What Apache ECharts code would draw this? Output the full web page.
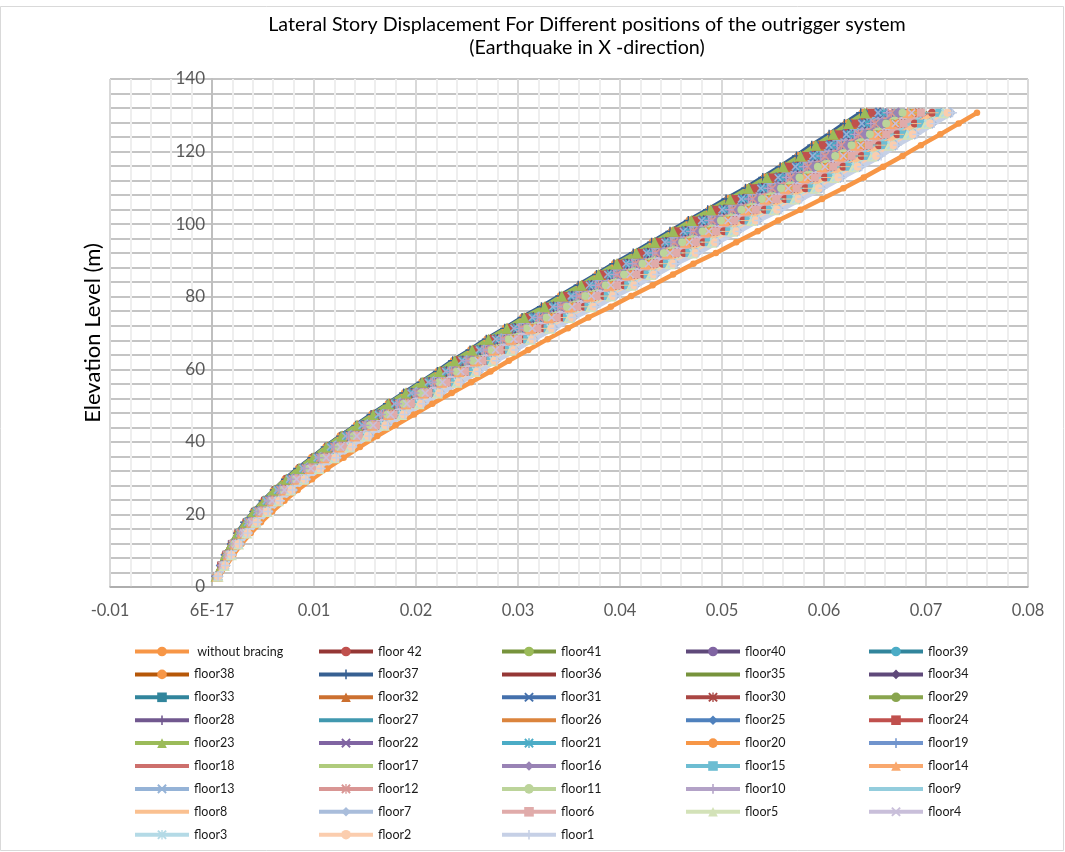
<!DOCTYPE html>
<html><head><meta charset="utf-8">
<script src="https://cdn.jsdelivr.net/npm/echarts@6/dist/echarts.min.js"></script>
<style>html,body{margin:0;padding:0;background:#fff}#c{width:1065px;height:852px}</style>
</head><body><div id="c"></div>
<script>
const elevation = [2.97,5.94,8.91,11.88,14.85,17.82,20.79,23.76,26.73,29.7,32.67,35.64,38.61,41.58,44.55,47.52,50.49,53.46,56.43,59.4,62.37,65.34,68.31,71.28,74.25,77.22,80.19,83.16,86.13,89.1,92.07,95.04,98.01,100.98,103.95,106.92,109.89,112.86,115.83,118.8,121.77,124.74,127.71,130.68];
const xTickLabels = ['-0.01','6E-17','0.01','0.02','0.03','0.04','0.05','0.06','0.07','0.08'];
const yTickLabels = ['0','20','40','60','80','100','120','140'];

const withoutBracing = [0.0007,0.0014,0.0021,0.0029,0.0038,0.0048,0.0059,0.0071,0.0084,0.0098,0.0113,0.0129,0.0145,0.0162,0.0180,0.0198,0.0216,0.0235,0.0254,0.0273,0.0291,0.0310,0.0329,0.0349,0.0369,0.0391,0.0411,0.0432,0.0452,0.0472,0.0494,0.0514,0.0535,0.0555,0.0577,0.0598,0.0619,0.0639,0.0658,0.0677,0.0695,0.0714,0.0732,0.0750];
const floor42 = [0.0006,0.0012,0.0018,0.0025,0.0033,0.0042,0.0052,0.0063,0.0075,0.0088,0.0102,0.0117,0.0132,0.0148,0.0165,0.0182,0.0199,0.0217,0.0235,0.0253,0.0270,0.0288,0.0306,0.0325,0.0344,0.0365,0.0384,0.0404,0.0423,0.0442,0.0463,0.0482,0.0502,0.0521,0.0542,0.0562,0.0582,0.0601,0.0619,0.0637,0.0654,0.0672,0.0689,0.0706];
const floor41 = [0.0005,0.0009,0.0014,0.0020,0.0026,0.0034,0.0043,0.0053,0.0063,0.0075,0.0088,0.0101,0.0115,0.0130,0.0145,0.0161,0.0177,0.0194,0.0210,0.0227,0.0243,0.0259,0.0276,0.0294,0.0311,0.0331,0.0349,0.0368,0.0385,0.0403,0.0423,0.0440,0.0459,0.0477,0.0496,0.0515,0.0534,0.0552,0.0568,0.0585,0.0601,0.0617,0.0633,0.0649];
const floor40 = [0.0005,0.0011,0.0016,0.0023,0.0030,0.0038,0.0048,0.0058,0.0070,0.0082,0.0095,0.0110,0.0124,0.0140,0.0156,0.0172,0.0189,0.0206,0.0224,0.0241,0.0257,0.0275,0.0292,0.0311,0.0329,0.0349,0.0368,0.0387,0.0406,0.0424,0.0444,0.0463,0.0482,0.0501,0.0521,0.0540,0.0560,0.0578,0.0596,0.0613,0.0629,0.0647,0.0663,0.0680];
const floor39 = [0.0005,0.0010,0.0015,0.0022,0.0029,0.0037,0.0046,0.0056,0.0067,0.0079,0.0093,0.0107,0.0121,0.0136,0.0152,0.0168,0.0185,0.0202,0.0219,0.0236,0.0252,0.0269,0.0286,0.0305,0.0323,0.0343,0.0361,0.0380,0.0398,0.0416,0.0437,0.0455,0.0474,0.0492,0.0512,0.0531,0.0551,0.0569,0.0586,0.0603,0.0619,0.0636,0.0652,0.0669];
const floor38 = [0.0004,0.0009,0.0013,0.0019,0.0025,0.0033,0.0041,0.0051,0.0061,0.0072,0.0085,0.0098,0.0112,0.0126,0.0142,0.0157,0.0173,0.0189,0.0206,0.0222,0.0237,0.0254,0.0270,0.0288,0.0305,0.0325,0.0342,0.0361,0.0378,0.0395,0.0415,0.0432,0.0451,0.0468,0.0488,0.0506,0.0525,0.0542,0.0559,0.0575,0.0590,0.0607,0.0622,0.0638];
const floor37 = [0.0004,0.0009,0.0013,0.0019,0.0025,0.0032,0.0041,0.0050,0.0061,0.0072,0.0084,0.0098,0.0111,0.0126,0.0141,0.0156,0.0172,0.0188,0.0205,0.0221,0.0236,0.0253,0.0269,0.0287,0.0304,0.0323,0.0341,0.0359,0.0377,0.0394,0.0413,0.0431,0.0449,0.0467,0.0486,0.0504,0.0523,0.0540,0.0557,0.0573,0.0588,0.0605,0.0620,0.0636];
const floor36 = [0.0006,0.0012,0.0018,0.0025,0.0033,0.0043,0.0053,0.0064,0.0076,0.0089,0.0103,0.0118,0.0133,0.0149,0.0166,0.0184,0.0201,0.0219,0.0237,0.0255,0.0272,0.0290,0.0308,0.0327,0.0346,0.0368,0.0387,0.0407,0.0426,0.0445,0.0466,0.0485,0.0505,0.0524,0.0545,0.0566,0.0586,0.0605,0.0623,0.0641,0.0658,0.0676,0.0693,0.0710];
const floor35 = [0.0006,0.0012,0.0018,0.0025,0.0032,0.0041,0.0051,0.0062,0.0074,0.0087,0.0101,0.0116,0.0131,0.0147,0.0163,0.0180,0.0197,0.0215,0.0233,0.0251,0.0268,0.0286,0.0304,0.0323,0.0341,0.0362,0.0381,0.0401,0.0420,0.0439,0.0460,0.0479,0.0499,0.0518,0.0538,0.0558,0.0578,0.0597,0.0615,0.0633,0.0650,0.0668,0.0685,0.0702];
const floor34 = [0.0005,0.0010,0.0015,0.0020,0.0027,0.0035,0.0044,0.0054,0.0065,0.0076,0.0089,0.0103,0.0117,0.0132,0.0148,0.0164,0.0179,0.0196,0.0213,0.0230,0.0246,0.0263,0.0280,0.0297,0.0315,0.0335,0.0353,0.0372,0.0390,0.0407,0.0427,0.0445,0.0464,0.0482,0.0502,0.0521,0.0539,0.0557,0.0574,0.0591,0.0607,0.0624,0.0640,0.0655];
const floor33 = [0.0005,0.0011,0.0016,0.0022,0.0029,0.0038,0.0047,0.0057,0.0069,0.0081,0.0094,0.0109,0.0123,0.0138,0.0154,0.0171,0.0187,0.0204,0.0222,0.0239,0.0255,0.0273,0.0290,0.0308,0.0326,0.0347,0.0365,0.0384,0.0403,0.0421,0.0441,0.0460,0.0479,0.0497,0.0517,0.0537,0.0556,0.0574,0.0592,0.0609,0.0625,0.0643,0.0659,0.0675];
const floor32 = [0.0005,0.0009,0.0014,0.0019,0.0026,0.0033,0.0042,0.0051,0.0062,0.0073,0.0086,0.0100,0.0113,0.0128,0.0143,0.0159,0.0174,0.0191,0.0207,0.0224,0.0240,0.0256,0.0273,0.0290,0.0308,0.0327,0.0345,0.0363,0.0381,0.0398,0.0418,0.0436,0.0454,0.0472,0.0491,0.0510,0.0528,0.0546,0.0562,0.0579,0.0595,0.0611,0.0627,0.0642];
const floor31 = [0.0005,0.0009,0.0014,0.0019,0.0026,0.0034,0.0042,0.0052,0.0062,0.0074,0.0087,0.0100,0.0114,0.0128,0.0144,0.0160,0.0175,0.0192,0.0208,0.0225,0.0241,0.0257,0.0274,0.0291,0.0309,0.0329,0.0346,0.0365,0.0382,0.0400,0.0420,0.0437,0.0456,0.0473,0.0493,0.0512,0.0530,0.0548,0.0564,0.0581,0.0597,0.0613,0.0629,0.0644];
const floor30 = [0.0006,0.0011,0.0017,0.0024,0.0031,0.0040,0.0050,0.0061,0.0072,0.0085,0.0099,0.0113,0.0128,0.0144,0.0160,0.0177,0.0194,0.0212,0.0229,0.0247,0.0264,0.0281,0.0299,0.0318,0.0336,0.0357,0.0376,0.0396,0.0414,0.0433,0.0454,0.0472,0.0492,0.0511,0.0531,0.0551,0.0571,0.0590,0.0607,0.0625,0.0642,0.0659,0.0676,0.0693];
const floor29 = [0.0005,0.0011,0.0016,0.0023,0.0030,0.0039,0.0048,0.0059,0.0070,0.0083,0.0096,0.0111,0.0125,0.0141,0.0157,0.0174,0.0190,0.0208,0.0225,0.0243,0.0259,0.0277,0.0294,0.0313,0.0331,0.0352,0.0370,0.0390,0.0408,0.0427,0.0447,0.0466,0.0485,0.0504,0.0524,0.0544,0.0563,0.0582,0.0599,0.0617,0.0633,0.0651,0.0667,0.0684];
const floor28 = [0.0005,0.0010,0.0015,0.0021,0.0028,0.0036,0.0045,0.0055,0.0066,0.0077,0.0090,0.0104,0.0118,0.0133,0.0149,0.0165,0.0181,0.0198,0.0215,0.0232,0.0248,0.0265,0.0282,0.0300,0.0318,0.0338,0.0356,0.0375,0.0393,0.0410,0.0430,0.0448,0.0467,0.0485,0.0505,0.0524,0.0543,0.0561,0.0578,0.0595,0.0611,0.0628,0.0644,0.0660];
const floor27 = [0.0006,0.0012,0.0017,0.0024,0.0032,0.0041,0.0051,0.0061,0.0073,0.0086,0.0100,0.0115,0.0129,0.0145,0.0162,0.0179,0.0196,0.0213,0.0231,0.0249,0.0266,0.0284,0.0301,0.0320,0.0339,0.0360,0.0379,0.0398,0.0417,0.0436,0.0457,0.0476,0.0495,0.0514,0.0535,0.0555,0.0575,0.0593,0.0611,0.0629,0.0646,0.0664,0.0680,0.0697];
const floor26 = [0.0005,0.0010,0.0016,0.0022,0.0029,0.0037,0.0046,0.0057,0.0068,0.0080,0.0093,0.0107,0.0122,0.0137,0.0153,0.0169,0.0185,0.0203,0.0220,0.0237,0.0253,0.0270,0.0288,0.0306,0.0324,0.0344,0.0362,0.0382,0.0400,0.0418,0.0438,0.0456,0.0476,0.0494,0.0514,0.0533,0.0552,0.0571,0.0588,0.0605,0.0621,0.0638,0.0655,0.0671];
const floor25 = [0.0005,0.0009,0.0014,0.0020,0.0027,0.0034,0.0043,0.0053,0.0064,0.0075,0.0088,0.0102,0.0116,0.0130,0.0146,0.0162,0.0178,0.0194,0.0211,0.0228,0.0244,0.0260,0.0277,0.0295,0.0313,0.0332,0.0350,0.0369,0.0387,0.0404,0.0424,0.0442,0.0461,0.0478,0.0498,0.0517,0.0536,0.0553,0.0570,0.0587,0.0603,0.0619,0.0635,0.0651];
const floor24 = [0.0005,0.0009,0.0014,0.0020,0.0026,0.0034,0.0043,0.0052,0.0063,0.0074,0.0087,0.0101,0.0114,0.0129,0.0145,0.0160,0.0176,0.0193,0.0209,0.0226,0.0242,0.0258,0.0275,0.0293,0.0310,0.0330,0.0348,0.0366,0.0384,0.0401,0.0421,0.0439,0.0457,0.0475,0.0495,0.0513,0.0532,0.0550,0.0566,0.0583,0.0599,0.0615,0.0631,0.0647];
const floor23 = [0.0004,0.0009,0.0013,0.0019,0.0025,0.0033,0.0041,0.0051,0.0061,0.0073,0.0085,0.0099,0.0112,0.0127,0.0142,0.0158,0.0173,0.0190,0.0206,0.0223,0.0238,0.0255,0.0271,0.0289,0.0306,0.0326,0.0343,0.0362,0.0379,0.0397,0.0416,0.0434,0.0452,0.0470,0.0489,0.0508,0.0526,0.0544,0.0560,0.0577,0.0592,0.0609,0.0624,0.0640];
const floor22 = [0.0005,0.0010,0.0015,0.0021,0.0028,0.0036,0.0045,0.0055,0.0066,0.0078,0.0092,0.0106,0.0120,0.0135,0.0151,0.0167,0.0183,0.0200,0.0217,0.0234,0.0250,0.0267,0.0284,0.0302,0.0320,0.0340,0.0358,0.0377,0.0395,0.0413,0.0434,0.0452,0.0471,0.0489,0.0509,0.0528,0.0547,0.0565,0.0582,0.0599,0.0615,0.0632,0.0648,0.0664];
const floor21 = [0.0005,0.0010,0.0015,0.0021,0.0027,0.0035,0.0044,0.0054,0.0065,0.0077,0.0090,0.0104,0.0118,0.0133,0.0148,0.0164,0.0180,0.0197,0.0214,0.0231,0.0247,0.0264,0.0281,0.0299,0.0316,0.0336,0.0354,0.0373,0.0391,0.0409,0.0429,0.0447,0.0466,0.0484,0.0503,0.0522,0.0541,0.0559,0.0576,0.0593,0.0609,0.0626,0.0642,0.0658];
const floor20 = [0.0006,0.0011,0.0017,0.0023,0.0031,0.0040,0.0049,0.0060,0.0071,0.0084,0.0098,0.0112,0.0127,0.0142,0.0159,0.0176,0.0192,0.0210,0.0227,0.0245,0.0262,0.0279,0.0297,0.0315,0.0334,0.0355,0.0373,0.0393,0.0411,0.0430,0.0451,0.0469,0.0489,0.0507,0.0528,0.0548,0.0567,0.0586,0.0603,0.0621,0.0638,0.0655,0.0672,0.0688];
const floor19 = [0.0006,0.0012,0.0019,0.0026,0.0034,0.0043,0.0053,0.0065,0.0077,0.0090,0.0104,0.0119,0.0135,0.0151,0.0168,0.0185,0.0202,0.0221,0.0239,0.0257,0.0274,0.0292,0.0311,0.0330,0.0349,0.0370,0.0389,0.0410,0.0429,0.0448,0.0469,0.0488,0.0509,0.0528,0.0549,0.0569,0.0589,0.0609,0.0627,0.0645,0.0662,0.0680,0.0698,0.0715];
const floor18 = [0.0006,0.0012,0.0018,0.0025,0.0033,0.0042,0.0052,0.0063,0.0075,0.0087,0.0101,0.0116,0.0131,0.0147,0.0164,0.0181,0.0198,0.0216,0.0234,0.0252,0.0269,0.0287,0.0305,0.0324,0.0343,0.0364,0.0383,0.0403,0.0422,0.0440,0.0461,0.0480,0.0500,0.0519,0.0540,0.0560,0.0580,0.0599,0.0617,0.0635,0.0652,0.0670,0.0687,0.0704];
const floor17 = [0.0006,0.0011,0.0017,0.0024,0.0031,0.0040,0.0050,0.0060,0.0072,0.0084,0.0098,0.0113,0.0127,0.0143,0.0160,0.0176,0.0193,0.0211,0.0228,0.0246,0.0263,0.0280,0.0298,0.0317,0.0335,0.0356,0.0375,0.0394,0.0413,0.0431,0.0452,0.0471,0.0490,0.0509,0.0530,0.0549,0.0569,0.0588,0.0605,0.0623,0.0640,0.0657,0.0674,0.0691];
const floor16 = [0.0005,0.0010,0.0016,0.0022,0.0029,0.0037,0.0047,0.0057,0.0068,0.0080,0.0094,0.0108,0.0122,0.0137,0.0154,0.0170,0.0186,0.0203,0.0221,0.0238,0.0254,0.0271,0.0289,0.0307,0.0325,0.0345,0.0364,0.0383,0.0401,0.0419,0.0440,0.0458,0.0477,0.0495,0.0516,0.0535,0.0554,0.0572,0.0590,0.0607,0.0623,0.0640,0.0657,0.0673];
const floor15 = [0.0006,0.0012,0.0018,0.0026,0.0034,0.0043,0.0053,0.0064,0.0076,0.0089,0.0104,0.0119,0.0134,0.0150,0.0167,0.0184,0.0202,0.0220,0.0238,0.0256,0.0273,0.0291,0.0309,0.0329,0.0348,0.0369,0.0388,0.0408,0.0427,0.0446,0.0468,0.0487,0.0507,0.0526,0.0547,0.0567,0.0588,0.0607,0.0625,0.0643,0.0660,0.0678,0.0695,0.0713];
const floor14 = [0.0005,0.0011,0.0016,0.0023,0.0030,0.0039,0.0048,0.0059,0.0070,0.0082,0.0096,0.0110,0.0125,0.0140,0.0157,0.0173,0.0190,0.0207,0.0225,0.0242,0.0258,0.0276,0.0293,0.0312,0.0330,0.0351,0.0369,0.0389,0.0407,0.0425,0.0446,0.0464,0.0484,0.0502,0.0523,0.0542,0.0562,0.0580,0.0598,0.0615,0.0631,0.0649,0.0665,0.0682];
const floor13 = [0.0005,0.0010,0.0014,0.0020,0.0027,0.0035,0.0044,0.0053,0.0064,0.0076,0.0089,0.0103,0.0116,0.0131,0.0147,0.0163,0.0179,0.0195,0.0212,0.0229,0.0245,0.0262,0.0278,0.0296,0.0314,0.0334,0.0352,0.0370,0.0388,0.0406,0.0426,0.0444,0.0462,0.0480,0.0500,0.0519,0.0538,0.0555,0.0572,0.0589,0.0605,0.0622,0.0637,0.0653];
const floor12 = [0.0005,0.0010,0.0015,0.0021,0.0028,0.0037,0.0046,0.0056,0.0067,0.0079,0.0092,0.0106,0.0120,0.0135,0.0151,0.0168,0.0184,0.0201,0.0218,0.0235,0.0251,0.0268,0.0285,0.0303,0.0321,0.0342,0.0360,0.0379,0.0397,0.0415,0.0435,0.0453,0.0472,0.0490,0.0510,0.0530,0.0549,0.0567,0.0584,0.0601,0.0617,0.0634,0.0650,0.0666];
const floor11 = [0.0005,0.0011,0.0016,0.0022,0.0030,0.0038,0.0047,0.0058,0.0069,0.0081,0.0095,0.0109,0.0124,0.0139,0.0155,0.0172,0.0188,0.0205,0.0223,0.0240,0.0256,0.0274,0.0291,0.0309,0.0328,0.0348,0.0366,0.0386,0.0404,0.0422,0.0443,0.0461,0.0481,0.0499,0.0519,0.0539,0.0558,0.0576,0.0594,0.0611,0.0627,0.0645,0.0661,0.0677];
const floor10 = [0.0005,0.0010,0.0015,0.0021,0.0028,0.0036,0.0045,0.0055,0.0066,0.0078,0.0091,0.0105,0.0119,0.0134,0.0150,0.0166,0.0182,0.0199,0.0216,0.0233,0.0249,0.0266,0.0283,0.0301,0.0319,0.0339,0.0357,0.0376,0.0394,0.0412,0.0432,0.0450,0.0469,0.0487,0.0507,0.0526,0.0545,0.0563,0.0580,0.0597,0.0613,0.0630,0.0646,0.0662];
const floor9 = [0.0006,0.0012,0.0018,0.0024,0.0032,0.0041,0.0051,0.0062,0.0074,0.0086,0.0100,0.0115,0.0130,0.0146,0.0163,0.0180,0.0196,0.0214,0.0232,0.0250,0.0267,0.0285,0.0303,0.0321,0.0340,0.0361,0.0380,0.0400,0.0419,0.0437,0.0458,0.0477,0.0497,0.0516,0.0537,0.0557,0.0576,0.0595,0.0613,0.0631,0.0648,0.0666,0.0683,0.0699];
const floor8 = [0.0006,0.0012,0.0018,0.0025,0.0033,0.0042,0.0052,0.0063,0.0075,0.0088,0.0103,0.0118,0.0133,0.0149,0.0166,0.0183,0.0200,0.0218,0.0236,0.0254,0.0271,0.0289,0.0307,0.0326,0.0345,0.0366,0.0385,0.0405,0.0424,0.0443,0.0465,0.0484,0.0504,0.0523,0.0544,0.0564,0.0584,0.0603,0.0621,0.0639,0.0656,0.0674,0.0691,0.0708];
const floor7 = [0.0006,0.0013,0.0019,0.0027,0.0035,0.0044,0.0055,0.0066,0.0079,0.0092,0.0106,0.0122,0.0137,0.0154,0.0171,0.0188,0.0206,0.0224,0.0243,0.0261,0.0278,0.0297,0.0315,0.0335,0.0354,0.0375,0.0395,0.0415,0.0435,0.0454,0.0475,0.0495,0.0515,0.0535,0.0556,0.0576,0.0597,0.0616,0.0635,0.0653,0.0670,0.0689,0.0706,0.0724];
const floor6 = [0.0006,0.0011,0.0017,0.0024,0.0032,0.0040,0.0050,0.0061,0.0073,0.0085,0.0099,0.0114,0.0129,0.0144,0.0161,0.0178,0.0195,0.0212,0.0230,0.0248,0.0265,0.0282,0.0300,0.0319,0.0338,0.0358,0.0377,0.0397,0.0416,0.0434,0.0455,0.0474,0.0494,0.0512,0.0533,0.0553,0.0573,0.0591,0.0609,0.0627,0.0644,0.0661,0.0678,0.0695];
const floor5 = [0.0006,0.0012,0.0019,0.0026,0.0034,0.0043,0.0054,0.0065,0.0077,0.0090,0.0105,0.0120,0.0135,0.0151,0.0169,0.0186,0.0203,0.0221,0.0240,0.0258,0.0275,0.0293,0.0312,0.0331,0.0350,0.0371,0.0391,0.0411,0.0430,0.0449,0.0471,0.0490,0.0510,0.0529,0.0551,0.0571,0.0591,0.0610,0.0629,0.0647,0.0664,0.0682,0.0700,0.0717];
const floor4 = [0.0006,0.0011,0.0017,0.0023,0.0031,0.0039,0.0049,0.0059,0.0071,0.0083,0.0097,0.0112,0.0126,0.0142,0.0158,0.0175,0.0191,0.0209,0.0226,0.0244,0.0261,0.0278,0.0296,0.0314,0.0333,0.0353,0.0372,0.0391,0.0410,0.0428,0.0449,0.0468,0.0487,0.0506,0.0526,0.0546,0.0565,0.0584,0.0601,0.0619,0.0636,0.0653,0.0670,0.0686];
const floor3 = [0.0006,0.0013,0.0019,0.0026,0.0034,0.0044,0.0054,0.0065,0.0078,0.0091,0.0105,0.0121,0.0136,0.0152,0.0169,0.0187,0.0204,0.0222,0.0241,0.0259,0.0276,0.0295,0.0313,0.0332,0.0351,0.0373,0.0392,0.0412,0.0432,0.0451,0.0472,0.0492,0.0512,0.0531,0.0552,0.0573,0.0593,0.0612,0.0631,0.0649,0.0666,0.0685,0.0702,0.0719];
const floor2 = [0.0006,0.0013,0.0019,0.0026,0.0035,0.0044,0.0054,0.0066,0.0078,0.0091,0.0106,0.0121,0.0137,0.0153,0.0170,0.0188,0.0205,0.0223,0.0242,0.0260,0.0277,0.0296,0.0314,0.0333,0.0353,0.0374,0.0393,0.0414,0.0433,0.0452,0.0474,0.0493,0.0514,0.0533,0.0554,0.0575,0.0595,0.0614,0.0633,0.0651,0.0668,0.0687,0.0704,0.0721];
const floor1 = [0.0006,0.0013,0.0019,0.0027,0.0035,0.0045,0.0055,0.0067,0.0079,0.0092,0.0107,0.0122,0.0138,0.0154,0.0172,0.0189,0.0207,0.0225,0.0244,0.0262,0.0279,0.0298,0.0316,0.0336,0.0355,0.0377,0.0396,0.0417,0.0436,0.0455,0.0477,0.0496,0.0517,0.0536,0.0558,0.0578,0.0599,0.0618,0.0637,0.0656,0.0672,0.0691,0.0708,0.0726];

const seriesNames = [' without bracing','floor 42','floor41','floor40','floor39','floor38','floor37','floor36','floor35','floor34','floor33','floor32','floor31','floor30','floor29','floor28','floor27','floor26','floor25','floor24','floor23','floor22','floor21','floor20','floor19','floor18','floor17','floor16','floor15','floor14','floor13','floor12','floor11','floor10','floor9','floor8','floor7','floor6','floor5','floor4','floor3','floor2','floor1'];
const seriesValues = [withoutBracing,floor42,floor41,floor40,floor39,floor38,floor37,floor36,floor35,floor34,floor33,floor32,floor31,floor30,floor29,floor28,floor27,floor26,floor25,floor24,floor23,floor22,floor21,floor20,floor19,floor18,floor17,floor16,floor15,floor14,floor13,floor12,floor11,floor10,floor9,floor8,floor7,floor6,floor5,floor4,floor3,floor2,floor1];

// styles
const lineColors = ['#F79646','#953735','#77933C','#5F497A','#31859C','#B65708','#376092','#953735','#77933C','#5F497A','#31859C','#CC7030','#4470AC','#AA4643','#89A54E','#71588F','#4198AF','#DB843D','#4F81BD','#C0504D','#9BBB59','#8064A2','#4BACC6','#F79646','#7094CD','#CD6F6C','#AFCB7C','#9983B5','#6DBDD2','#F9A86E','#95B3D7','#D99694','#BCD49A','#B3A2C7','#93CDDD','#FAC090','#A9BDDB','#E0ABAA','#D3E2B8','#C9BFDA','#B4DAE6','#FBCDAE','#C6D0E6'];
const markerColors = lineColors.slice();
markerColors[1]='#C0504D'; markerColors[2]='#9BBB59'; markerColors[3]='#8064A2'; markerColors[4]='#4BACC6'; markerColors[5]='#F79646';
const markers = ['circle','circle','circle','circle','circle','circle','plus','dash','dash','diamond','square','triangle','x','star','circle','plus','dash','dash','diamond','square','triangle','x','star','circle','plus','dash','dash','diamond','square','triangle','x','star','circle','plus','dash','dash','diamond','square','triangle','x','star','circle','plus'];
const SYM = {
  circle:'circle', diamond:'diamond', square:'rect', triangle:'triangle',
  plus:'path://M4.2,0L5.8,0L5.8,4.2L10,4.2L10,5.8L5.8,5.8L5.8,10L4.2,10L4.2,5.8L0,5.8L0,4.2L4.2,4.2Z',
  x:'path://M1.4,0L5,3.6L8.6,0L10,1.4L6.4,5L10,8.6L8.6,10L5,6.4L1.4,10L0,8.6L3.6,5L0,1.4Z',
  star:'path://M1.4,0L5,3.6L8.6,0L10,1.4L6.4,5L10,8.6L8.6,10L5,6.4L1.4,10L0,8.6L3.6,5L0,1.4Z M4.3,0L5.7,0L5.7,10L4.3,10Z',
  dash:'path://M0,0L10,0L10,3L0,3Z'
};
const SYMSIZE = {circle:8, diamond:11, square:8, triangle:11, plus:9, x:8, star:9, dash:[9,3]};

const FONT = 'Lato, "Liberation Sans", sans-serif';

const series = seriesValues.map((vals, i) => ({
  name: seriesNames[i],
  type: 'line',
  data: vals.map((x, k) => [x, elevation[k]]),
  symbol: SYM[markers[i]],
  symbolSize: i === 0 ? 6.5 : SYMSIZE[markers[i]],
  symbolKeepAspect: markers[i] === 'dash',
  showSymbol: true,
  color: lineColors[i],
  lineStyle: {color: lineColors[i], width: 4.5},
  itemStyle: {color: markerColors[i], borderWidth: 0},
  emphasis: {disabled: true},
  animation: false
}));

const legendCols = [
  [' without bracing','floor38','floor33','floor28','floor23','floor18','floor13','floor8','floor3'],
  ['floor 42','floor37','floor32','floor27','floor22','floor17','floor12','floor7','floor2'],
  ['floor41','floor36','floor31','floor26','floor21','floor16','floor11','floor6','floor1'],
  ['floor40','floor35','floor30','floor25','floor20','floor15','floor10','floor5'],
  ['floor39','floor34','floor29','floor24','floor19','floor14','floor9','floor4']
];
const legendLefts = [133, 317, 500, 684, 867];
const legends = legendCols.map((names, c) => ({
  data: names.map(n => markers[seriesNames.indexOf(n)] === 'dash'
    ? {name: n, itemStyle: {opacity: 0}} : {name: n}),
  orient: 'vertical', left: legendLefts[c], top: 645,
  itemWidth: 54, itemHeight: 12, itemGap: 9.9, padding: 0,
  selectedMode: false,
  lineStyle: {width: 4},
  textStyle: {fontFamily: FONT, fontSize: 12.5, color: '#1a1a1a', lineHeight: 12}
}));

const chart = echarts.init(document.getElementById('c'), null, {renderer: 'canvas'});
chart.setOption({
  backgroundColor: '#ffffff',
  animation: false,
  grid: {left: 110, right: 37, top: 79, bottom: 265, containLabel: false, outerBoundsMode: 'none'},
  xAxis: {
    type: 'value', min: -0.01, max: 0.08, interval: 0.01,
    axisLine: {show: true, onZero: false, lineStyle: {color: '#A6A6A6', width: 1.5}},
    axisTick: {show: false},
    minorTick: {show: true, splitNumber: 5, length: 0},
    axisLabel: {fontFamily: FONT, fontSize: 16.5, color: '#595959', margin: 15,
      formatter: v => xTickLabels[Math.round((v + 0.01) / 0.01)]},
    splitLine: {show: true, lineStyle: {color: '#D9D9D9', width: 2}},
    minorSplitLine: {show: true, lineStyle: {color: '#EEEEEE', width: 2}}
  },
  yAxis: {
    type: 'value', min: 0, max: 140, interval: 20,
    offset: -102,
    name: 'Elevation Level (m)', nameLocation: 'middle', nameGap: 108, nameRotate: 90,
    nameTextStyle: {fontFamily: FONT, fontSize: 22, color: '#000'},
    axisLine: {show: true, onZero: false, lineStyle: {color: '#BFBFBF', width: 2}},
    axisTick: {show: false},
    minorTick: {show: true, splitNumber: 5, length: 0},
    axisLabel: {fontFamily: FONT, fontSize: 17, color: '#595959', margin: 7,
      formatter: v => yTickLabels[Math.round(v / 20)]},
    splitLine: {show: true, lineStyle: {color: '#C4C4C4', width: 2}},
    minorSplitLine: {show: true, lineStyle: {color: '#C4C4C4', width: 2}}
  },
  legend: legends,
  graphic: [
    {type: 'rect', silent: true, shape: {x: 0.5, y: 6.5, width: 1063, height: 844},
      style: {fill: 'none', stroke: '#D9D9D9', lineWidth: 1}},
    {type: 'text', silent: true,
      style: {text: 'Lateral Story Displacement For Different positions of the outrigger system', x: 587, y: 25,
        textAlign: 'center', textVerticalAlign: 'middle', font: '19.7px ' + FONT, fill: '#000'}},
    {type: 'text', silent: true,
      style: {text: '(Earthquake in X -direction)', x: 587, y: 48,
        textAlign: 'center', textVerticalAlign: 'middle', font: '19.7px ' + FONT, fill: '#000'}}
  ],
  series: series
});
</script>
</body></html>
